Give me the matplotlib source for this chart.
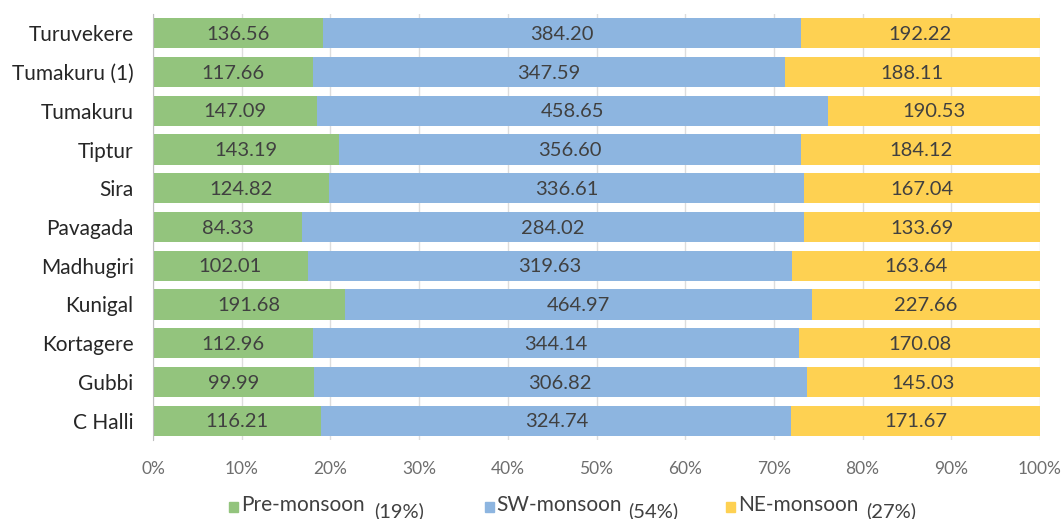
import matplotlib
matplotlib.use("Agg")
import matplotlib.pyplot as plt
import numpy as np
from matplotlib.patches import Rectangle

categories = ["Turuvekere", "Tumakuru (1)", "Tumakuru", "Tiptur", "Sira", "Pavagada",
              "Madhugiri", "Kunigal", "Kortagere", "Gubbi", "C Halli"]
pre_monsoon = [136.56, 117.66, 147.09, 143.19, 124.82, 84.33, 102.01, 191.68, 112.96, 99.99, 116.21]
sw_monsoon = [384.20, 347.59, 458.65, 356.60, 336.61, 284.02, 319.63, 464.97, 344.14, 306.82, 324.74]
ne_monsoon = [192.22, 188.11, 190.53, 184.12, 167.04, 133.69, 163.64, 227.66, 170.08, 145.03, 171.67]
series_names = ["Pre-monsoon", "SW-monsoon", "NE-monsoon"]
series_share = ["(19%)", "(54%)", "(27%)"]
tick_labels = ["0%", "10%", "20%", "30%", "40%", "50%", "60%", "70%", "80%", "90%", "100%"]

colors = ["#93C47D", "#8DB5E0", "#FED152"]
font = "Lato"

fig = plt.figure(figsize=(10.64, 5.19), dpi=100)
ax = fig.add_axes([153/1064, 1-440/519, (1040-153)/1064, (440-14)/519])

data = np.array([pre_monsoon, sw_monsoon, ne_monsoon])
totals = data.sum(axis=0)
shares = data / totals * 100
y = np.arange(len(categories))[::-1]

left = np.zeros(len(categories))
for i in range(3):
    ax.barh(y, shares[i], left=left, height=0.78, color=colors[i], zorder=2)
    for j in range(len(categories)):
        ax.text(left[j] + shares[i][j] / 2, y[j] - 0.03, f"{data[i][j]:.2f}",
                ha="center", va="center", fontsize=14.5, color="#404040",
                family=font, zorder=3)
    left = left + shares[i]

ax.set_xlim(0, 100)
ax.set_ylim(-0.5, len(categories) - 0.5)
ax.set_yticks(y)
ax.set_yticklabels(categories, fontsize=15, color="#262626", family=font)
ax.set_xticks(np.arange(0, 101, 10))
ax.set_xticklabels(tick_labels, fontsize=12.5, color="#6E6E6E", family=font)
ax.tick_params(axis="both", length=0)
ax.tick_params(axis="x", pad=15)
ax.tick_params(axis="y", pad=14)
ax.grid(axis="x", color="#DDDDDD", linewidth=1, zorder=0)
for s in ["top", "right", "bottom"]:
    ax.spines[s].set_visible(False)
ax.spines["left"].set_color("#BFBFBF")
ax.spines["left"].set_zorder(4)

# manual legend
legend_items = [(229, 241, 374), (485, 496, 628), (726, 738, 866)]
for (sq_x, tx, px), name, share, col in zip(legend_items, series_names, series_share, colors):
    fig.patches.append(Rectangle((sq_x/1064, 1-512/519), 9/1064, 10/519,
                                 transform=fig.transFigure, color=col, figure=fig))
    fig.text(tx/1064, 1-505/519, name, fontsize=15, color="#404040", family=font,
             ha="left", va="center")
    fig.text(px/1064, 1-511/519, share, fontsize=14.5, color="#404040", family=font,
             ha="left", va="center")

fig.savefig("out.png", dpi=100)
